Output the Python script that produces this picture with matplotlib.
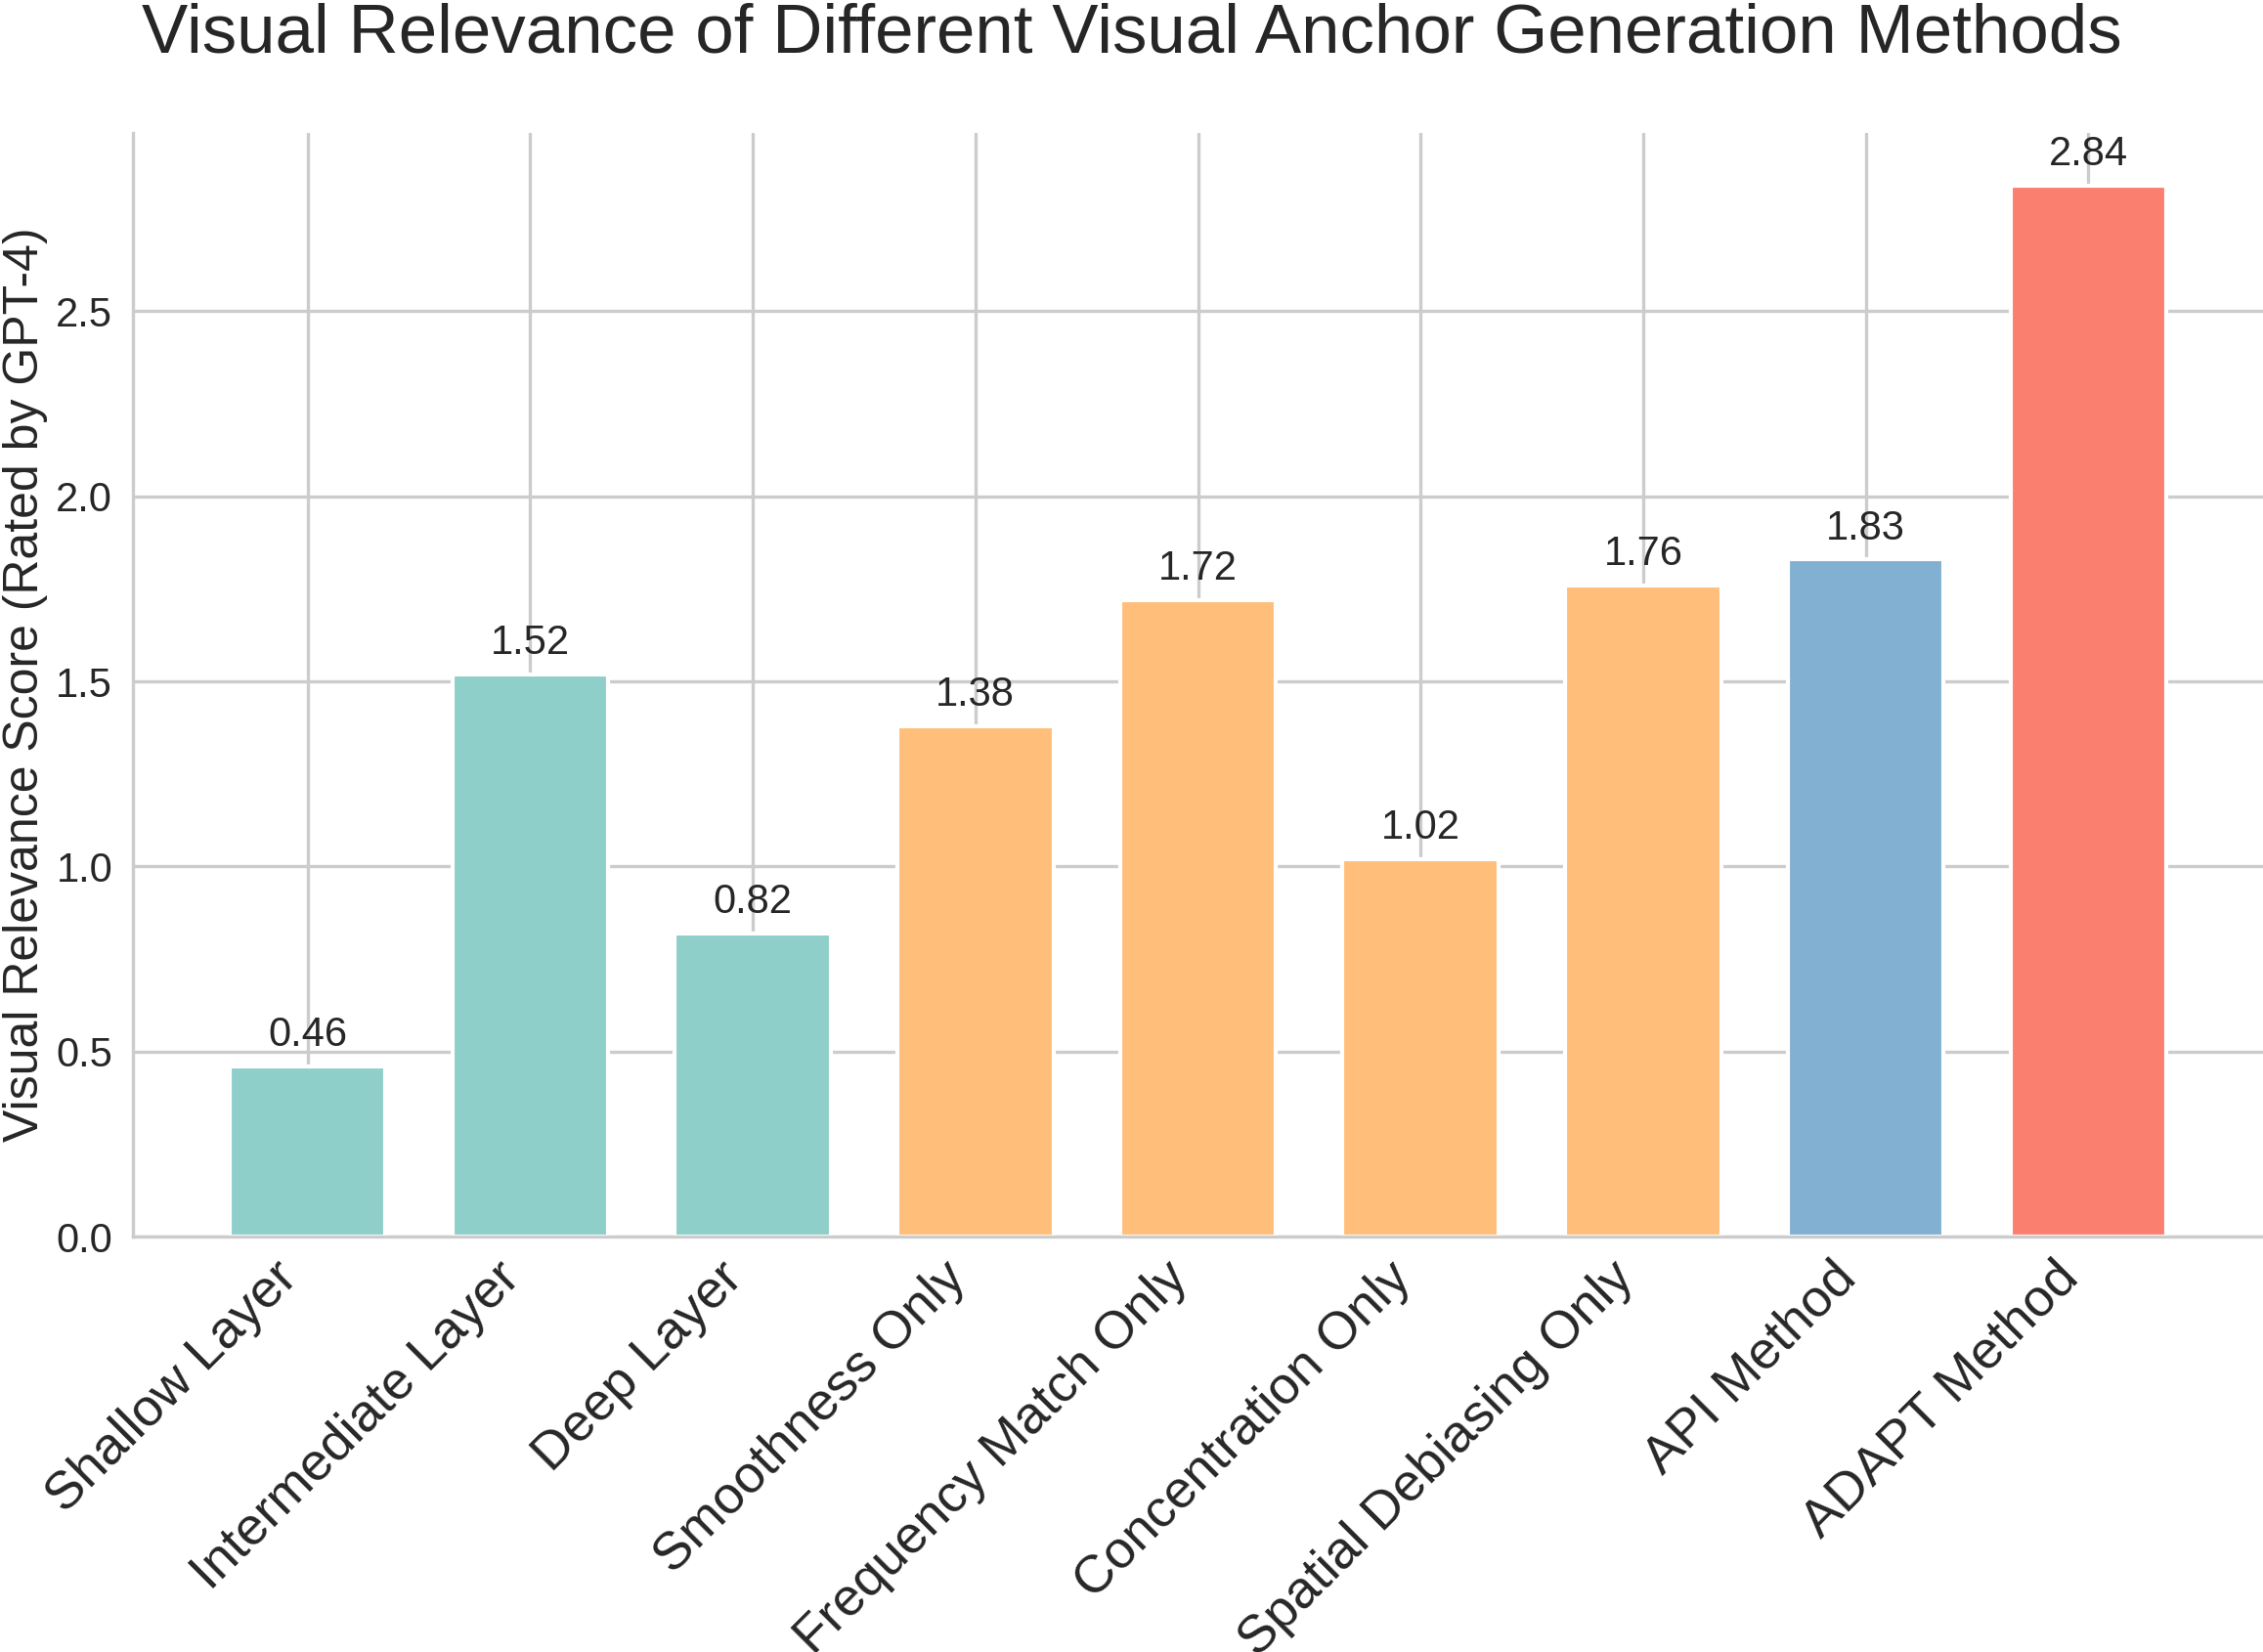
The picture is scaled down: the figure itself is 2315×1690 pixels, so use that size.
import numpy as np
import matplotlib
matplotlib.use('Agg')
import matplotlib.pyplot as plt
import seaborn as sns

#-------------------------------- DATA -------------------------------------
methods = ['Shallow Layer', 'Intermediate Layer', 'Deep Layer',
           'Smoothness Only', 'Frequency Match Only', 'Concentration Only',
           'Spatial Debiasing Only', 'API Method', 'ADAPT Method']
scores = [0.46, 1.52, 0.82, 1.38, 1.72, 1.02, 1.76, 1.83, 2.84]
groups = ['layer', 'layer', 'layer', 'ablation', 'ablation', 'ablation',
          'ablation', 'api', 'adapt']

group_colors = {'layer': '#8ECFC9', 'ablation': '#FFBE7A',
                'api': '#82B0D2', 'adapt': '#FA7F6F'}

#-------------------------------- PLOT -------------------------------------
sns.set_style('whitegrid')
plt.rcParams['font.family'] = ['Liberation Sans', 'DejaVu Sans']

fig = plt.figure(figsize=(2315 / 300, 1690 / 300), dpi=300)
ax = fig.add_axes([136 / 2315, 1 - 1265 / 1690, 1 - 136 / 2315, (1265 - 136) / 1690])

x = np.arange(len(methods))
colors = [group_colors[g] for g in groups]
bars = ax.bar(x, scores, width=0.7, color=colors)

for xi, s in zip(x, scores):
    ax.text(xi, s + 0.03, f'{s:.2f}', ha='center', va='bottom', fontsize=10, color='#262626')

ax.set_xticks(x)
ax.set_xticklabels(methods, rotation=45, ha='right', fontsize=13)
ax.tick_params(axis='x', pad=0.5)
ax.tick_params(axis='y', labelsize=10, pad=1.5)
ax.set_ylabel('Visual Relevance Score (Rated by GPT-4)', fontsize=12, labelpad=2)
ax.set_ylim(0, max(scores) * 1.05)
sns.despine(ax=ax)

fig.text(1158 / 2315, 1 - 53 / 1690,
         'Visual Relevance of Different Visual Anchor Generation Methods',
         ha='center', va='baseline', fontsize=17, color='#262626')

plt.savefig('out.png', dpi=300)
